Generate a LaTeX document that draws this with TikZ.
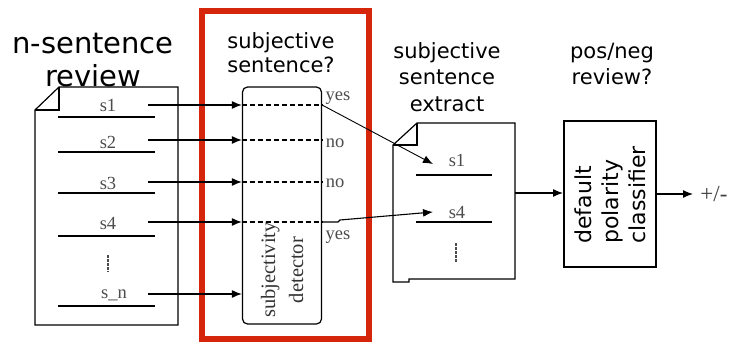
\documentclass[tikz,border=0pt]{standalone}
\usepackage{fontspec}
\setmainfont{DejaVu Sans}
\newfontfamily\lblfont{Liberation Serif}
\usetikzlibrary{arrows.meta}
\definecolor{boxred}{RGB}{213,38,12}
\begin{document}
\begin{tikzpicture}[x=1pt,y=-1pt,
  line/.style={line width=1.2pt},
  tip/.style={-{Latex[length=10pt,width=8pt]}},
  arr/.style={line width=1.2pt,tip},
  head/.style={align=center, inner sep=0pt},
  lab/.style={font=\lblfont\fontsize{18.5}{20}\selectfont, text=black!70, inner sep=0pt},
  dash5/.style={line width=1.1pt, dash pattern=on 5pt off 3pt},
  dotv/.style={line width=1.3pt, black!70, dash pattern=on 2.5pt off 1.5pt},
]
\useasboundingbox (0,0) rectangle (732,343);

% headings
\node[head, font=\fontsize{29}{33}\selectfont] (h1) at (93,60) {n-sentence\\review};
\node[head, font=\fontsize{21}{24}\selectfont] (h2) at (281,53) {subjective\\sentence?};
\node[head, font=\fontsize{21}{26.5}\selectfont] (h3) at (447,77) {subjective\\sentence\hspace*{18pt}\\extract};
\node[head, font=\fontsize{21}{26}\selectfont] (h4) at (612,63.5) {pos/neg\\review?};

% red frame
\node[draw=boxred, line width=6pt, minimum width=167pt, minimum height=328pt, inner sep=0pt] (frame) at (285.5,175) {};

% left document
\draw[line] (59,87) -- (178,87) -- (178,325) -- (35,325) -- (35,110) -- cycle;
\draw[line] (35,110) -- (59,110) -- (59,87);
\foreach \yy in {117,152,193,236,306} \draw[line] (58,\yy) -- (155,\yy);
\node[lab] (s1) at (108,105) {s1};
\node[lab] (s2) at (108,142) {s2};
\node[lab] (s3) at (108,183) {s3};
\node[lab] (s4) at (108,223) {s4};
\node[lab] (sn) at (114,295) {s\_n};
\draw[dotv] (108,255) -- (108,272);

% detector
\node[draw, line width=1.2pt, rounded corners=5pt, minimum width=79pt, minimum height=237pt, inner sep=0pt] (det) at (282,205.5) {};
\node[lab, rotate=90, align=center, text=black!80, font=\lblfont\fontsize{20.5}{28}\selectfont] (dt) at (282,270) {subjectivity\\detector};

\coordinate (a1) at (148,105);
\coordinate (a2) at (148,140);
\coordinate (a3) at (148,182);
\coordinate (a4) at (148,222);
\coordinate (an) at (148,294);
\foreach \c in {a1,a2,a3,a4,an} \draw[arr] (\c) -- (\c -| det.west);
\foreach \c in {a1,a2,a3,a4} \draw[dash5] (\c -| det.west) -- (\c -| det.east);

\node[lab] (y1) at (338,98) {yes};
\node[lab] (n2) at (335,143) {no};
\node[lab] (n3) at (335,183) {no};
\node[lab] (y4) at (338,237) {yes};

% extract document
\draw[line] (417,123) -- (515,123) -- (515,279) -- (409,279) -- (409,282) -- (393,282) -- (393,145) -- cycle;
\draw[line] (393,145) -- (417,145) -- (417,123);
\draw[line] (416,175) -- (492,175);
\draw[line] (416,222) -- (492,222);
\node[lab] (e1) at (457,160) {s1};
\node[lab] (e4) at (457,212) {s4};
\draw[dotv] (456,243) -- (456,262);
\coordinate (t1) at (433,164);
\coordinate (t4) at (433,212);
\coordinate (extR) at (515,193);

\draw[line width=0.9pt, tip] (a1 -| det.east) -- (t1);
\draw[line width=1.1pt, tip] (a4 -| det.east) -- (338,222) -- (340,220) -- (t4);

% classifier
\node[draw, line width=2pt, minimum width=92pt, minimum height=146pt, inner sep=0pt] (cls) at (610,194) {};
\node[rotate=90, align=left, inner sep=0pt, font=\fontsize{22}{27}\selectfont] (clst) at (610,195) {default\\polarity\\classifier};
\draw[arr] (extR) -- (extR -| cls.west);
\coordinate (out) at (693,194);
\draw[arr] (cls.east) -- (out);
\node[lab, text=black!75, font=\lblfont\fontsize{23}{24}\selectfont] (pm) at (714,194) {+/-};
\end{tikzpicture}
\end{document}
